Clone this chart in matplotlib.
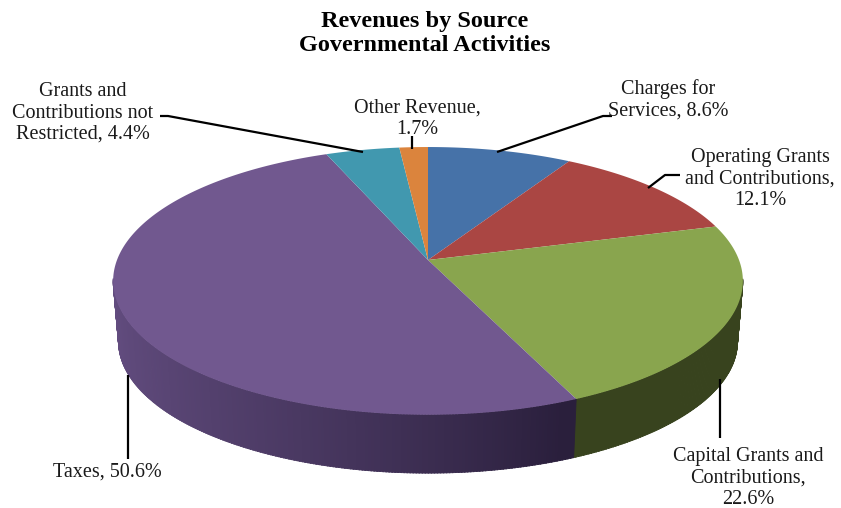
import numpy as np
import matplotlib
matplotlib.use("Agg")
import matplotlib.pyplot as plt

plt.rcParams['font.family'] = ['Liberation Serif', 'DejaVu Serif']

# share of revenue, clockwise from 12 o'clock
sources = ["Charges for\nServices, 8.6%",
           "Operating Grants\nand Contributions,\n12.1%",
           "Capital Grants and\nContributions,\n22.6%",
           "Taxes, 50.6%",
           "Grants and\nContributions not\nRestricted, 4.4%",
           "Other Revenue,\n1.7%"]
shares = [8.6, 12.1, 22.6, 50.6, 4.4, 1.7]
top_colors = ["#4672a8", "#aa4643", "#89a54e", "#71588f", "#4198af", "#db843d"]
side_light = ["#2f4d72", "#732f2d", "#3f4a22", "#634d80", "#2b6676", "#955a29"]
side_dark = ["#2f4d72", "#732f2d", "#38431e", "#2a1f3c", "#2b6676", "#955a29"]

# label anchor and leader line, in pixels
label_xy = [(668, 100), (760, 179), (748, 478), (107, 472), (83, 113), (417, 119)]
leaders = [[(612, 116), (603, 116), (497, 152)],
           [(680, 175), (665, 175), (648, 188)],
           [(720, 438), (720, 379)],
           [(128, 459), (128, 375)],
           [(160, 116), (168, 116), (363, 152)],
           [(412, 136), (412, 149)]]

CX, CY = 428, 260
SX, SY = 311, 130.6
PERSP = 0.156
DEPTH = 61
BOTTOM_SCALE = 0.983


def rim(theta):
    """ theta clockwise from north, returns pixel coordinates of the top rim """
    x, y = np.sin(theta), np.cos(theta)
    w = 1 + PERSP * y
    return CX + SX * x / w, CY - SY * y / w


def rim_low(theta):
    x, y = rim(theta)
    return CX + (x - CX) * BOTTOM_SCALE, CY + (y - CY) * BOTTOM_SCALE + DEPTH


def to_rgb(c):
    return np.array(matplotlib.colors.to_rgb(c))


fig = plt.figure(figsize=(8.41, 5.08), dpi=100, facecolor="white")
ax = fig.add_axes([0, 0, 1, 1])
ax.set_xlim(0, 841)
ax.set_ylim(508, 0)
ax.axis("off")

edges = np.radians(np.cumsum([0] + shares) / sum(shares) * 360)

# side wall first, only the part facing us
for i in range(len(shares)):
    a0, a1 = edges[i], edges[i + 1]
    steps = np.linspace(a0, a1, max(2, int((a1 - a0) * 120)))
    for t0, t1 in zip(steps[:-1], steps[1:]):
        mid = (t0 + t1) / 2
        if np.cos(mid) > -0.14:
            continue
        # wall gets darker going from the left edge round to the right
        f = np.clip((3 * np.pi / 2 - mid) / (np.pi * 0.62), 0, 1) ** 1.7
        col = to_rgb(side_light[i]) * (1 - f) + to_rgb(side_dark[i]) * f
        xa, ya = rim(np.array([t0, t1 + 0.003]))
        xb, yb = rim_low(np.array([t1 + 0.003, t0]))
        ax.fill(np.r_[xa, xb], np.r_[ya, yb], color=col, lw=0.6)

# top face
for i in range(len(shares)):
    th = np.linspace(edges[i], edges[i + 1], 200)
    x, y = rim(th)
    ax.fill(np.r_[CX, x], np.r_[CY, y], color=top_colors[i], lw=0)

for pts in leaders:
    xs, ys = zip(*pts)
    ax.plot(xs, ys, color="black", lw=1.6, solid_capstyle="butt")

for txt, (lx, ly) in zip(sources, label_xy):
    ax.text(lx, ly, txt, ha="center", va="center", fontsize=14.5,
            color="#1a1a1a", linespacing=1.17)

ax.text(425, 33.5, "Revenues by Source\nGovernmental Activities", ha="center", va="center",
        fontsize=17.5, fontweight="bold", color="black", linespacing=1.2)

fig.savefig("out.png", dpi=100)
